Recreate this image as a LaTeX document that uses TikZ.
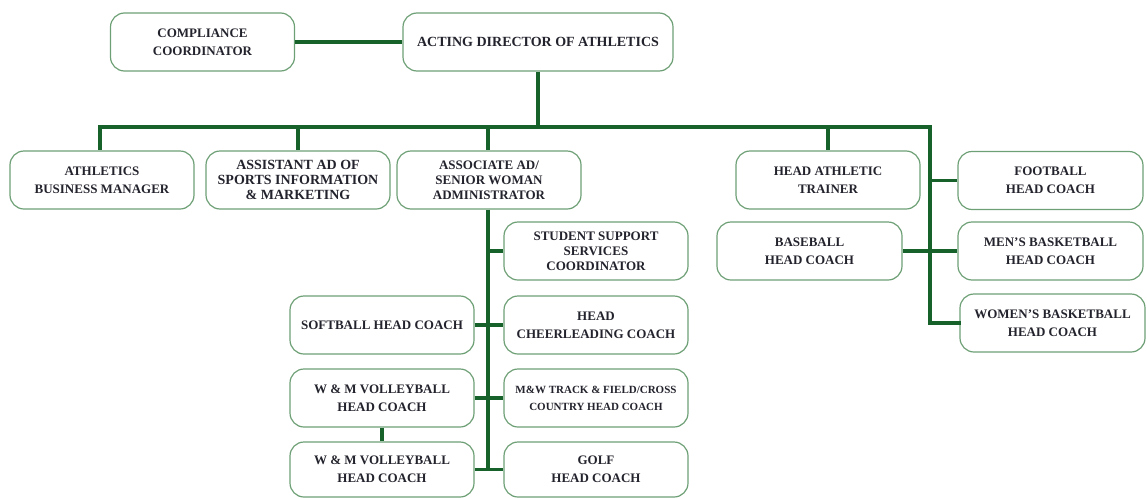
\documentclass[tikz,border=0pt]{standalone}
\usepackage{fontspec}
\setmainfont{Liberation Serif}
\definecolor{linegreen}{RGB}{22,98,42}
\definecolor{boxgreen}{RGB}{110,160,118}
\definecolor{txt}{RGB}{35,35,45}
\tikzset{
  box/.style={draw=boxgreen, line width=1.2pt, rounded corners=14pt, minimum width=184pt, minimum height=58pt, align=center, inner sep=0pt, text=txt, font=\fontsize{13}{18}\selectfont\bfseries},
  small/.style={font=\fontsize{13}{15}\selectfont\bfseries},
  wide/.style={font=\fontsize{14}{15}\selectfont\bfseries},
  tiny/.style={font=\fontsize{11}{17}\selectfont\bfseries},
  conn/.style={draw=linegreen, line width=3.8pt}
}
\begin{document}
\begin{tikzpicture}[x=1pt,y=-1pt]
\useasboundingbox (0,0) rectangle (1147,498);
% nodes
\node[box] (cc) at (202.5,42) {COMPLIANCE\\COORDINATOR};
\node[box, minimum width=270pt, font=\fontsize{14}{18}\selectfont\bfseries] (dir) at (538,42) {ACTING DIRECTOR OF ATHLETICS};
\node[box] (abm) at (102,180) {ATHLETICS\\BUSINESS MANAGER};
\node[box, wide] (asi) at (298,180) {ASSISTANT AD OF\\SPORTS INFORMATION\\\& MARKETING};
\node[box, small] (aad) at (489,180) {ASSOCIATE AD/\\SENIOR WOMAN\\ADMINISTRATOR};
\node[box] (hat) at (828,180) {HEAD ATHLETIC\\TRAINER};
\node[box, minimum width=185pt] (fb) at (1050.5,180.5) {FOOTBALL\\HEAD COACH};
\node[box, minimum width=185pt] (bb) at (809.5,251) {BASEBALL\\HEAD COACH};
\node[box, minimum width=185pt] (mbb) at (1050.5,251) {MEN'S BASKETBALL\\HEAD COACH};
\node[box, minimum width=185pt] (wbb) at (1052.5,323) {WOMEN'S BASKETBALL\\HEAD COACH};
\node[box, small] (ss) at (596,251) {STUDENT SUPPORT\\SERVICES\\COORDINATOR};
\node[box] (sb) at (382,325) {SOFTBALL HEAD COACH};
\node[box] (hc) at (596,325) {HEAD\\CHEERLEADING COACH};
\node[box] (vb1) at (382,398) {W \& M VOLLEYBALL\\HEAD COACH};
\node[box, tiny] (tf) at (596,398) {M\&W TRACK \& FIELD/CROSS\\COUNTRY HEAD COACH};
\node[box, minimum height=55pt] (vb2) at (382,469.5) {W \& M VOLLEYBALL\\HEAD COACH};
\node[box, minimum height=55pt] (golf) at (596,469.5) {GOLF\\HEAD COACH};
% bus coordinates
\coordinate (busL) at (100,127);
\coordinate (busR) at (930,127);
\coordinate (spine) at (488,127);
% connectors
\draw[conn] (cc.east) -- (dir.west);
\draw[conn] (dir.south) -- (dir.south |- busL);
\draw[conn, line cap=rect] (busL) -- (busR);
\draw[conn] (busL) -- (busL |- abm.north);
\draw[conn] (asi.north |- busL) -- (asi.north);
\draw[conn] (spine) -- (spine |- aad.north);
\draw[conn] (hat.north |- busL) -- (hat.north);
\draw[conn, line cap=rect] (busR) -- (busR |- wbb.west) -- (wbb.west);
\draw[conn] (busR |- fb.west) -- (fb.west);
\draw[conn] (bb.east) -- (bb.east -| mbb.west);
\draw[conn] (spine |- aad.south) -- (spine |- vb2.east);
\draw[conn] (spine |- ss.west) -- (ss.west);
\draw[conn] (sb.east) -- (hc.west);
\draw[conn] (vb1.east) -- (tf.west);
\draw[conn] (vb2.east) -- (golf.west);
\draw[conn] (vb1.south) -- (vb2.north);
\end{tikzpicture}
\end{document}
